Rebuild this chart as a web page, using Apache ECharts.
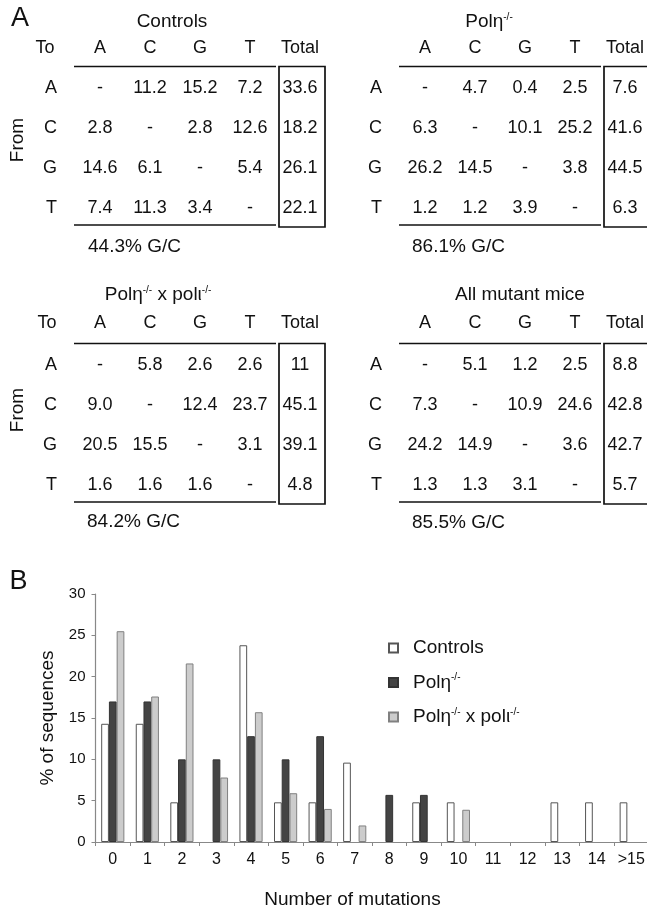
<!DOCTYPE html>
<html>
<head>
<meta charset="utf-8">
<script src="https://cdn.jsdelivr.net/npm/echarts@6/dist/echarts.min.js"></script>
<style>
html,body{margin:0;padding:0;background:#fff;}
#chart{width:647px;height:911px;}
</style>
</head>
<body>
<div id="chart"></div>
<script>
// ---------- Panel A data ----------
const tableCols = ['A', 'C', 'G', 'T', 'Total'];
const tableRows = ['A', 'C', 'G', 'T'];
const controlsTable = [
  ['-', '11.2', '15.2', '7.2', '33.6'],
  ['2.8', '-', '2.8', '12.6', '18.2'],
  ['14.6', '6.1', '-', '5.4', '26.1'],
  ['7.4', '11.3', '3.4', '-', '22.1']
];
const polEtaTable = [
  ['-', '4.7', '0.4', '2.5', '7.6'],
  ['6.3', '-', '10.1', '25.2', '41.6'],
  ['26.2', '14.5', '-', '3.8', '44.5'],
  ['1.2', '1.2', '3.9', '-', '6.3']
];
const doubleTable = [
  ['-', '5.8', '2.6', '2.6', '11'],
  ['9.0', '-', '12.4', '23.7', '45.1'],
  ['20.5', '15.5', '-', '3.1', '39.1'],
  ['1.6', '1.6', '1.6', '-', '4.8']
];
const allMutantTable = [
  ['-', '5.1', '1.2', '2.5', '8.8'],
  ['7.3', '-', '10.9', '24.6', '42.8'],
  ['24.2', '14.9', '-', '3.6', '42.7'],
  ['1.3', '1.3', '3.1', '-', '5.7']
];
const tableTitles = ['Controls', 'Polη{sup|-/-}', 'Polη{sup|-/-} x polι{sup|-/-}', 'All mutant mice'];
const gcNotes = ['44.3% G/C', '86.1% G/C', '84.2% G/C', '85.5% G/C'];

// ---------- Panel B data ----------
const mutationCats = ['0', '1', '2', '3', '4', '5', '6', '7', '8', '9', '10', '11', '12', '13', '14', '>15'];
const seriesNames = ['Controls', 'Polη-/-', 'Polη-/- x polι-/-'];
const controlsPct = [14.3, 14.3, 4.8, 0, 23.8, 4.8, 4.8, 9.6, 0, 4.8, 4.8, 0, 0, 4.8, 4.8, 4.8];
const polEtaPct   = [17.0, 17.0, 10.0, 10.0, 12.8, 10.0, 12.8, 0, 5.7, 5.7, 0, 0, 0, 0, 0, 0];
const doublePct   = [25.5, 17.6, 21.6, 7.8, 15.7, 5.9, 4.0, 2.0, 0, 0, 3.9, 0, 0, 0, 0, 0];

const FONT = 'Liberation Sans, Arial, Helvetica, sans-serif';
const INK = '#111';
const supRich = { sup: { fontSize: 10, verticalAlign: 'top', fontFamily: FONT, fill: INK, color: INK } };

const chart = echarts.init(document.getElementById('chart'), null, { renderer: 'canvas' });

// table layout (positions only)
const tableLayouts = [
  { left: 75, top: 68, labelMargin: 11 },
  { left: 400, top: 68, labelMargin: 11 },
  { left: 75, top: 345, labelMargin: 13 },
  { left: 400, top: 345, labelMargin: 13 }
];
const tables = [controlsTable, polEtaTable, doubleTable, allMutantTable];

function cellData(tbl) {
  const out = [];
  tbl.forEach((row, r) => row.forEach((v, c) => out.push([c, r, v])));
  return out;
}

function rulesRenderItem(params, api) {
  const a = api.coord([0, 0]);
  const t = api.coord([3, 3]);
  const tot = api.coord([4, 0]);
  const bw = api.size([1, 1])[0];
  const top = a[1] - 21.5;
  const bottom = t[1] + 17;
  const x0 = a[0] - bw / 2 - 1;
  const x1 = t[0] + bw / 2 + 1;
  const st = { stroke: INK, lineWidth: 1.7, fill: null };
  return {
    type: 'group',
    children: [
      { type: 'line', shape: { x1: x0, y1: top, x2: x1, y2: top }, style: st },
      { type: 'line', shape: { x1: x0, y1: bottom, x2: x1, y2: bottom }, style: st },
      { type: 'rect', shape: { x: tot[0] - bw / 2 + 4, y: top, width: bw - 4, height: bottom - top + 2 }, style: { stroke: INK, lineWidth: 1.7, fill: 'rgba(0,0,0,0)' } }
    ]
  };
}

const grids = [], xAxes = [], yAxes = [], series = [];

tableLayouts.forEach((L, i) => {
  grids.push({ left: L.left, top: L.top, width: 250, height: 160, containLabel: false, outerBoundsMode: 'none' });
  xAxes.push({
    type: 'category', gridIndex: i, data: tableCols, position: 'top',
    axisLine: { show: false }, axisTick: { show: false }, splitLine: { show: false },
    axisLabel: { interval: 0, margin: L.labelMargin, fontSize: 18, fontFamily: FONT, color: INK }
  });
  yAxes.push({
    type: 'category', gridIndex: i, data: tableRows, inverse: true,
    axisLine: { show: false }, axisTick: { show: false }, splitLine: { show: false },
    axisLabel: { interval: 0, margin: 18, fontSize: 18, fontFamily: FONT, color: INK }
  });
  series.push({
    type: 'scatter', xAxisIndex: i, yAxisIndex: i, silent: true,
    symbolSize: 1, itemStyle: { color: 'rgba(0,0,0,0)', opacity: 1 },
    data: cellData(tables[i]),
    label: {
      show: true, position: 'inside', formatter: p => p.value[2],
      fontSize: 18, fontFamily: FONT, color: INK, opacity: 1,
      textBorderWidth: 0, textBorderColor: 'transparent'
    }
  });
  series.push({
    type: 'custom', xAxisIndex: i, yAxisIndex: i, silent: true,
    data: [[0, 0]], renderItem: rulesRenderItem
  });
});

// bar chart grid
grids.push({ left: 95.5, top: 594, width: 553, height: 248, containLabel: false, outerBoundsMode: 'none' });
xAxes.push({
  type: 'category', gridIndex: 4, data: mutationCats,
  name: 'Number of mutations', nameLocation: 'middle', nameGap: 48,
  nameTextStyle: { fontSize: 19, fontFamily: FONT, color: INK, padding: [0, 39, 0, 0] },
  axisLine: { lineStyle: { color: '#888', width: 1.2 } },
  axisTick: { show: true, length: 4, lineStyle: { color: '#888' } },
  axisLabel: { interval: 0, margin: 10, fontSize: 16, fontFamily: FONT, color: INK },
  splitLine: { show: false }
});
yAxes.push({
  type: 'value', gridIndex: 4, min: 0, max: 30, interval: 5,
  name: '% of sequences', nameLocation: 'middle', nameGap: 38,
  nameTextStyle: { fontSize: 19, fontFamily: FONT, color: INK },
  axisLine: { show: true, lineStyle: { color: '#888', width: 1.2 } },
  axisTick: { show: true, length: 4, lineStyle: { color: '#888' } },
  axisLabel: { margin: 10, fontSize: 15, fontFamily: FONT, color: INK },
  splitLine: { show: false }
});

const barStyles = [
  { color: '#ffffff', borderColor: '#555', borderWidth: 1 },
  { color: '#444444', borderColor: '#333', borderWidth: 1 },
  { color: '#cccccc', borderColor: '#808080', borderWidth: 1 }
];
[controlsPct, polEtaPct, doublePct].forEach((vals, k) => {
  series.push({
    type: 'bar', name: seriesNames[k], xAxisIndex: 4, yAxisIndex: 4,
    // zero-height bars are left undrawn, as in the original figure
    data: vals.map(v => (v === 0 ? null : v)),
    barGap: '0%', barCategoryGap: '33%',
    itemStyle: barStyles[k], silent: true, animation: false
  });
});

// text decorations
const txt = (x, y, text, size, align, extra) => Object.assign({
  type: 'text', x: x, y: y, silent: true,
  style: { text: text, fontSize: size, fontFamily: FONT, fill: INK, align: align || 'center', verticalAlign: 'middle', rich: supRich }
}, extra || {});

const graphics = [
  txt(20, 19, 'A', 27),
  txt(18.5, 582, 'B', 27),
  txt(172, 22, tableTitles[0], 19),
  txt(489, 22, tableTitles[1], 19),
  txt(158, 295, tableTitles[2], 19),
  txt(520, 295, tableTitles[3], 19),
  txt(45, 48, 'To', 18),
  txt(47, 323, 'To', 18),
  txt(18, 140, 'From', 19, 'center', { rotation: Math.PI / 2 }),
  txt(18, 410, 'From', 19, 'center', { rotation: Math.PI / 2 }),
  txt(88, 247, gcNotes[0], 19, 'left'),
  txt(412, 247, gcNotes[1], 19, 'left'),
  txt(87, 522, gcNotes[2], 19, 'left'),
  txt(412, 523, gcNotes[3], 19, 'left')
];

chart.setOption({
  animation: false,
  backgroundColor: '#fff',
  grid: grids,
  xAxis: xAxes,
  yAxis: yAxes,
  series: series,
  legend: {
    data: seriesNames, orient: 'vertical', left: 388, top: 638, padding: 0,
    itemWidth: 9, itemHeight: 9, itemGap: 14.5, icon: 'rect',
    selectedMode: false,
    formatter: n => n.replace(/-\/-/g, '{sup|-/-}'),
    textStyle: { fontSize: 19, lineHeight: 20, fontFamily: FONT, color: INK, padding: [0, 0, 0, 10], rich: supRich }
  },
  graphic: graphics
});
</script>
</body>
</html>
